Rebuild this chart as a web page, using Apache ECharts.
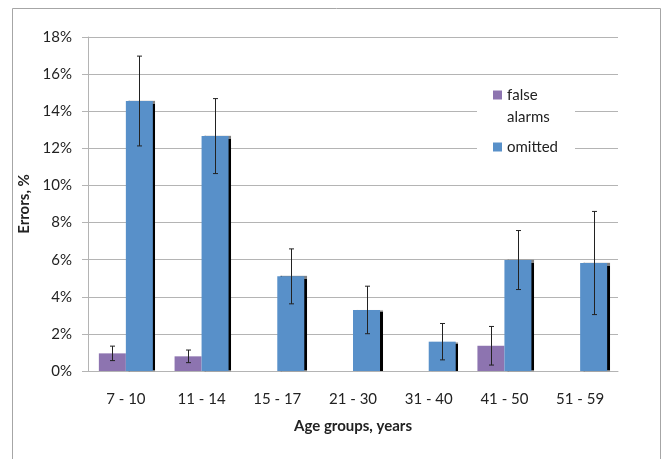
<!DOCTYPE html>
<html>
<head>
<meta charset="utf-8">
<script src="https://cdn.jsdelivr.net/npm/echarts@6/dist/echarts.min.js"></script>
<style>
  html, body { margin: 0; padding: 0; background: #fff; }
  #chart { width: 667px; height: 459px; }
</style>
</head>
<body>
<div id="chart"></div>
<script>
// data (percent)
const ageGroups = ['7 - 10', '11 - 14', '15 - 17', '21 - 30', '31 - 40', '41 - 50', '51 - 59']
const falseAlarms = [0.95, 0.79, 0, 0, 0, 1.36, 0]
const falseAlarmsErr = [0.39, 0.34, 0, 0, 0, 1.04, 0]
const omitted = [14.55, 12.66, 5.10, 3.29, 1.58, 5.98, 5.82]
const omittedErr = [2.42, 2.02, 1.48, 1.28, 0.98, 1.59, 2.78]
const yTicks = [0, 2, 4, 6, 8, 10, 12, 14, 16, 18]

const font = 'Lato, "Open Sans", sans-serif'
const gridColor = '#b4b4b4'
const barW = 27

const chart = echarts.init(document.getElementById('chart'))

// whiskers drawn through the axis scales, shifted to sit on each bar
function errorSeries(name, values, errs, shift) {
  return {
    name: name + ' err',
    type: 'custom',
    z: 5,
    silent: true,
    data: values.map((v, i) => [i, v, errs[i]]),
    renderItem: (params, api) => {
      const e = api.value(2)
      if (!e) return null
      const v = api.value(1)
      const top = api.coord([api.value(0), v + e])
      const bot = api.coord([api.value(0), v - e])
      const x = Math.round(top[0] + shift) + 0.5
      const st = {stroke: '#222', lineWidth: 1}
      return {
        type: 'group',
        children: [
          {type: 'line', shape: {x1: x, y1: top[1], x2: x, y2: bot[1]}, style: st},
          {type: 'line', shape: {x1: x - 2.5, y1: top[1], x2: x + 2.5, y2: top[1]}, style: st},
          {type: 'line', shape: {x1: x - 2.5, y1: bot[1], x2: x + 2.5, y2: bot[1]}, style: st}
        ]
      }
    }
  }
}

const option = {
  animation: false,
  textStyle: {fontFamily: font},
  graphic: [
    {
      type: 'rect',
      z: -1,
      shape: {x: 12.5, y: 8.5, width: 648, height: 470},
      style: {fill: '#fff', stroke: '#a6a6a6', lineWidth: 1}
    },
    {
      type: 'rect',
      z: 1,
      shape: {x: 477, y: 80, width: 98, height: 80},
      style: {fill: '#fff'}
    }
  ],
  legend: {
    orient: 'vertical',
    left: 493,
    top: 62,
    padding: 0,
    z: 10,
    itemWidth: 9,
    itemHeight: 9,
    itemGap: 8,
    icon: 'rect',
    selectedMode: false,
    textStyle: {fontFamily: font, fontSize: 15, color: '#222', lineHeight: 22},
    // leading blank line keeps the swatch level with the first word
    formatter: (n) => n.indexOf(' ') > 0 ? '\n' + n.replace(' ', '\n') : n,
    data: ['false alarms', 'omitted']
  },
  grid: {left: 88, right: 49, top: 37, bottom: 88},
  xAxis: {
    type: 'category',
    data: ageGroups,
    name: 'Age groups, years',
    nameLocation: 'middle',
    nameGap: 48,
    nameTextStyle: {fontFamily: font, fontSize: 15, fontWeight: 'bold', color: '#222', verticalAlign: 'top'},
    axisLine: {lineStyle: {color: gridColor}},
    axisTick: {show: false},
    axisLabel: {fontFamily: font, fontSize: 15, color: '#222', margin: 21}
  },
  yAxis: {
    type: 'value',
    min: 0,
    max: 18,
    interval: 2,
    name: 'Errors, %',
    nameLocation: 'middle',
    nameGap: 54,
    nameTextStyle: {fontFamily: font, fontSize: 15, fontWeight: 'bold', color: '#222'},
    axisLine: {show: true, lineStyle: {color: gridColor}},
    axisTick: {show: true, length: 6, lineStyle: {color: gridColor}},
    splitLine: {lineStyle: {color: gridColor}},
    axisLabel: {
      fontFamily: font, fontSize: 15, color: '#222', margin: 16,
      formatter: (v) => yTicks.includes(v) ? v + '%' : ''
    }
  },
  series: [
    {
      name: 'false alarms',
      type: 'bar',
      data: falseAlarms,
      barWidth: barW,
      barGap: '0%',
      itemStyle: {color: '#8d74b0'}
    },
    {
      name: 'omitted',
      type: 'bar',
      data: omitted,
      barWidth: barW,
      itemStyle: {
        color: '#5890c9',
        shadowColor: 'rgba(0,0,0,1)',
        shadowOffsetX: 2.5,
        shadowOffsetY: 0,
        shadowBlur: 1
      }
    },
    errorSeries('false alarms', falseAlarms, falseAlarmsErr, -barW / 2),
    errorSeries('omitted', omitted, omittedErr, barW / 2)
  ]
}

chart.setOption(option)
</script>
</body>
</html>
